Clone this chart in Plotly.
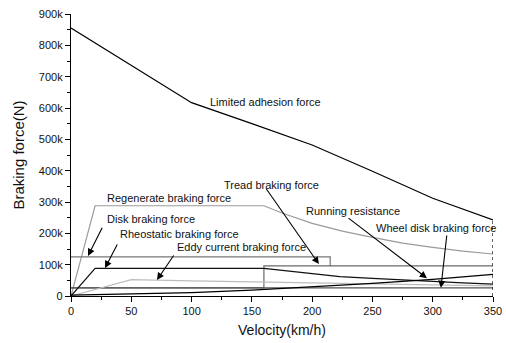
import plotly.graph_objects as go

# ---- data (velocity km/h, force N) ----
adh_v = [0, 100, 150, 200, 250, 300, 350]
adh_f = [855000, 617000, 550000, 482000, 398000, 312000, 243000]

regen_v = [0, 20, 160, 175, 200, 225, 250, 275, 300, 325, 350]
regen_f = [0, 288000, 288000, 265000, 232000, 207000, 187000, 169000, 155000, 143000, 134000]

disk_v = [0, 215, 215]
disk_f = [125000, 125000, 95000]

tread_v = [0, 160, 160, 350]
tread_f = [26000, 26000, 96000, 96000]

wheel_v = [0, 350]
wheel_f = [26000, 26000]

rheo_v = [0, 20, 160, 180, 200, 223, 250, 273, 300, 325, 350]
rheo_f = [0, 88000, 88000, 80000, 72000, 62000, 56000, 51000, 46000, 42000, 38000]

eddy_v = [0, 50, 100, 150, 200, 250, 300, 350]
eddy_f = [0, 52000, 48000, 45000, 42000, 38000, 35000, 32000]

run_v = [0, 50, 100, 150, 200, 250, 300, 350]
run_f = [3000, 6000, 11000, 19000, 29000, 40000, 53000, 69000]

x_ticks = [0, 50, 100, 150, 200, 250, 300, 350]
y_ticks = [0, 100000, 200000, 300000, 400000, 500000, 600000, 700000, 800000, 900000]
y_ticktext = ["0", "100k", "200k", "300k", "400k", "500k", "600k", "700k", "800k", "900k"]

# label text: (text, v, F)
labels = [
    ("Limited adhesion force", 113.6, 619000),
    ("Regenerate braking force", 28.2, 313000),
    ("Disk braking force", 28.2, 246000),
    ("Rheostatic braking force", 39, 198000),
    ("Eddy current braking force", 86.2, 156000),
    ("Tread braking force", 125.2, 354000),
    ("Running resistance", 193.2, 271000),
    ("Wheel disk braking force", 251.2, 217000),
]
# arrows: (tip v, tip F, tail v, tail F)
arrows = [
    (14.1, 128000, 26.5, 223000),
    (28.2, 89000, 39, 169000),
    (71.3, 51000, 86, 134000),
    (205.6, 102000, 160.9, 348000),
    (295.2, 57000, 228.9, 252000),
    (306.8, 26000, 311.8, 198000),
]

fig = go.Figure()

def add(v, f, color, width=1.2, dash="solid"):
    fig.add_trace(go.Scatter(x=v, y=f, mode="lines",
                             line=dict(color=color, width=width, dash=dash),
                             showlegend=False, hoverinfo="skip"))

add(regen_v, regen_f, "#9a9a9a")
add(disk_v, disk_f, "#777777")
add(tread_v, tread_f, "#6a6a6a")
add(wheel_v, wheel_f, "#555555")
add(eddy_v, eddy_f, "#bdbdbd")
add(rheo_v, rheo_f, "#111111")
add(run_v, run_f, "#000000")
add(adh_v, adh_f, "#000000")
add([adh_v[-1], adh_v[-1]], [0, adh_f[-1]], "#000000", width=1.2, dash="dot")

for t, v, f in labels:
    fig.add_annotation(x=v, y=f, text=t, showarrow=False, xanchor="left",
                       yanchor="middle", font=dict(size=11, color="#111111",
                                                   family="Liberation Sans, Arial"))
for tv, tf, av, af in arrows:
    fig.add_annotation(x=tv, y=tf, ax=av, ay=af, axref="x", ayref="y",
                       xref="x", yref="y", text="", showarrow=True,
                       arrowhead=2, arrowsize=1.3, arrowwidth=1.1, arrowcolor="#000000")

fig.update_layout(
    width=506, height=343,
    margin=dict(l=71, r=13, t=14, b=47),
    paper_bgcolor="white", plot_bgcolor="white",
    font=dict(family="Liberation Sans, Arial", color="#111111", size=11),
    xaxis=dict(range=[0, 350], tickvals=x_ticks, showgrid=False, zeroline=False,
               automargin=False,
               showline=True, linecolor="black", linewidth=1.2,
               ticks="outside", ticklen=5, tickcolor="black",
               minor=dict(ticks="outside", ticklen=3, dtick=25, tickcolor="black"),
               title=dict(text="Velocity(km/h)", font=dict(size=14), standoff=8)),
    yaxis=dict(range=[0, 900000], tickvals=y_ticks, ticktext=y_ticktext,
               showgrid=False, zeroline=False, automargin=False,
               showline=True, linecolor="black", linewidth=1.2,
               ticks="outside", ticklen=5, tickcolor="black",
               minor=dict(ticks="outside", ticklen=3, dtick=50000, tickcolor="black"),
               title=dict(text="Braking force(N)", font=dict(size=15), standoff=10)),
)

fig.write_html("out.html")
